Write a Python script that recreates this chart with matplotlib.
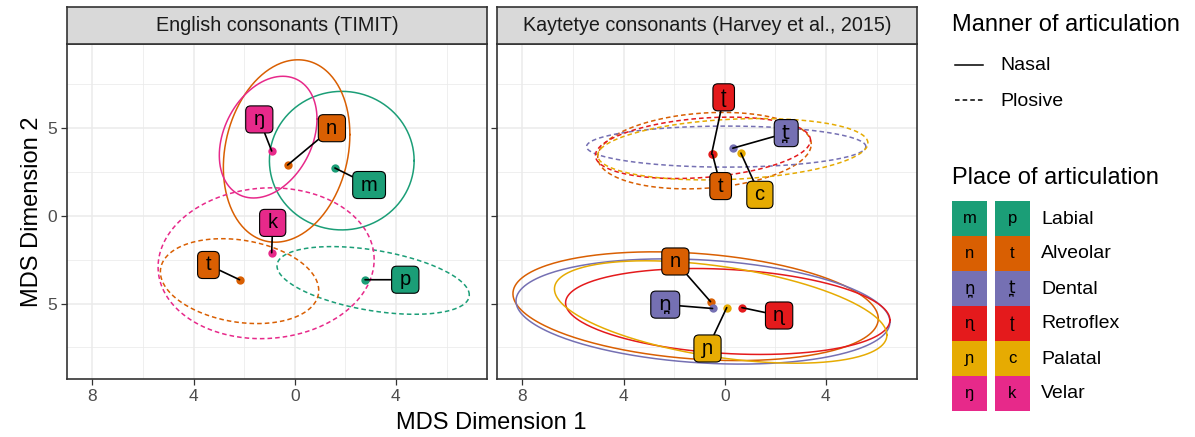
import numpy as np
import matplotlib.pyplot as plt
from matplotlib.patches import Rectangle
from matplotlib.lines import Line2D

plt.rcParams['font.family'] = ['Liberation Sans', 'DejaVu Sans']

# place of articulation -> colour
places = ['Labial', 'Alveolar', 'Dental', 'Retroflex', 'Palatal', 'Velar']
place_colors = ['#1B9E77', '#D95F02', '#7570B3', '#E41A1C', '#E6AB02', '#E7298A']
nasal_symbols = ['m', 'n', 'n\u032A', '\u0273', '\u0272', '\u014B']
plosive_symbols = ['p', 't', 't\u032A', '\u0288', 'c', 'k']

# English (TIMIT)
eng_symbol = ['m', 'n', '\u014B', 'p', 't', 'k']
eng_place = ['Labial', 'Alveolar', 'Velar', 'Labial', 'Alveolar', 'Velar']
eng_manner = ['Nasal', 'Nasal', 'Nasal', 'Plosive', 'Plosive', 'Plosive']
eng_x = [1.59, -0.28, -0.91, 2.78, -2.18, -0.91]
eng_y = [2.73, 2.90, 3.70, -3.64, -3.64, -2.10]
eng_label_x = [2.94, 1.47, -1.40, 4.37, -3.41, -0.87]
eng_label_y = [1.76, 5.00, 5.50, -3.64, -2.80, -0.40]
# ellipse: centre, x half-range, y half-range, correlation
eng_ell_cx = [1.86, -0.32, -1.05, 3.10, -2.18, -1.13]
eng_ell_cy = [3.15, 3.70, 4.49, -3.68, -3.72, -2.70]
eng_ell_sx = [2.86, 2.50, 1.93, 3.80, 3.13, 4.27]
eng_ell_sy = [3.95, 5.20, 3.47, 1.93, 2.42, 4.30]
eng_ell_r = [0.0, 0.18, 0.30, -0.43, -0.22, 0.05]

# Kaytetye (Harvey et al., 2015)
kay_symbol = ['n', 'n\u032A', '\u0273', '\u0272', 't', 't\u032A', '\u0288', 'c']
kay_place = ['Alveolar', 'Dental', 'Retroflex', 'Palatal',
             'Alveolar', 'Dental', 'Retroflex', 'Palatal']
kay_manner = ['Nasal'] * 4 + ['Plosive'] * 4
kay_x = [-0.56, -0.48, 0.68, 0.08, -0.48, 0.32, -0.52, 0.64]
kay_y = [-4.89, -5.28, -5.23, -5.23, 3.50, 3.86, 3.52, 3.58]
kay_label_x = [-1.95, -2.35, 2.15, -0.68, -0.16, 2.43, -0.04, 1.39]
kay_label_y = [-2.60, -5.06, -5.68, -7.56, 1.70, 4.72, 6.76, 1.20]
kay_ell_cx = [-1.15, -0.86, 0.12, -0.16, -0.80, 0.06, -0.86, 0.32]
kay_ell_cy = [-5.15, -5.45, -5.45, -5.48, 3.72, 3.95, 3.88, 3.80]
kay_ell_sx = [7.22, 7.39, 6.41, 6.57, 4.22, 5.52, 4.25, 5.34]
kay_ell_sy = [3.10, 3.00, 2.45, 2.92, 2.18, 1.17, 1.75, 1.75]
kay_ell_r = [-0.23, -0.20, -0.20, -0.45, 0.17, 0.0, 0.25, 0.20]

x_ticks = [-8, -4, 0, 4]
x_ticklabels = ['8', '4', '0', '4']
y_ticks = [-5, 0, 5]
y_ticklabels = ['5', '0', '5']

DASH = (0, (3, 2))
col = dict(zip(places, place_colors))


def fam(s):
    # combining bridge sits better when base and mark come from the same font
    return ['DejaVu Sans'] if '\u032A' in s else ['Liberation Sans', 'DejaVu Sans']


def ellipse_xy(cx, cy, sx, sy, r):
    t = np.linspace(0, 2 * np.pi, 300)
    return cx + sx * np.cos(t), cy + sy * (r * np.cos(t) + np.sqrt(1 - r ** 2) * np.sin(t))


def draw_panel(ax, sym, place, manner, x, y, lx, ly, ecx, ecy, esx, esy, er):
    ax.set_facecolor('white')
    for i in range(len(sym)):
        c = col[place[i]]
        ls = '-' if manner[i] == 'Nasal' else DASH
        ex, ey = ellipse_xy(ecx[i], ecy[i], esx[i], esy[i], er[i])
        ax.plot(ex, ey, color=c, lw=1.1, linestyle=ls, zorder=3)
    for i in range(len(sym)):
        c = col[place[i]]
        ax.annotate('\u2009' + sym[i] + '\u2009', xy=(x[i], y[i]), xytext=(lx[i], ly[i]),
                    textcoords='data', ha='center', va='center', fontsize=14.5, zorder=6,
                    family=fam(sym[i]),
                    bbox=dict(boxstyle='round,pad=0.2,rounding_size=0.25', fc=c, ec='black', lw=0.8),
                    arrowprops=dict(arrowstyle='-', color='black', lw=1.2, shrinkA=0, shrinkB=0))
        ax.plot(x[i], y[i], 'o', color=c, ms=6, mec='none', zorder=5)
    ax.set_xlim(-9.0, 7.6)
    ax.set_ylim(-9.3, 9.8)
    ax.set_xticks(x_ticks)
    ax.set_xticklabels(x_ticklabels)
    ax.set_xticks([-6, -2, 2, 6], minor=True)
    ax.set_yticks(y_ticks)
    ax.set_yticks([-7.5, -2.5, 2.5, 7.5], minor=True)
    ax.grid(True, which='major', color='#EBEBEB', lw=1.1, zorder=0)
    ax.grid(True, which='minor', color='#EBEBEB', lw=0.55, zorder=0)
    ax.set_axisbelow(True)
    ax.tick_params(which='major', length=4, width=0.9, color='#333333', labelcolor='#4D4D4D',
                   labelsize=12.5, pad=3)
    ax.tick_params(which='minor', length=0)
    for s in ax.spines.values():
        s.set_color('#333333')
        s.set_linewidth(1.2)


fig = plt.figure(figsize=(11.95, 4.37), dpi=100)
W, H = 1195.0, 437.0
panels = [(67, 'English consonants (TIMIT)'), (497, 'Kaytetye consonants (Harvey et al., 2015)')]
axes = []
for left, title in panels:
    ax = fig.add_axes([left / W, 1 - 379 / H, 420 / W, 335 / H])
    st = fig.add_axes([left / W, 1 - 44 / H, 420 / W, 37 / H])
    st.set_facecolor('#D9D9D9')
    st.set_xticks([])
    st.set_yticks([])
    for s in st.spines.values():
        s.set_color('#333333')
        s.set_linewidth(1.2)
    st.text(0.5, 0.5, title, ha='center', va='center', fontsize=14.2, color='#1A1A1A',
            transform=st.transAxes)
    axes.append(ax)

draw_panel(axes[0], eng_symbol, eng_place, eng_manner, eng_x, eng_y, eng_label_x, eng_label_y,
           eng_ell_cx, eng_ell_cy, eng_ell_sx, eng_ell_sy, eng_ell_r)
draw_panel(axes[1], kay_symbol, kay_place, kay_manner, kay_x, kay_y, kay_label_x, kay_label_y,
           kay_ell_cx, kay_ell_cy, kay_ell_sx, kay_ell_sy, kay_ell_r)
axes[0].set_yticklabels(y_ticklabels)
axes[1].set_yticklabels([])
axes[0].set_ylabel('MDS Dimension 2', fontsize=17, labelpad=3)
fig.text(491.5 / W, 1 - 423 / H, 'MDS Dimension 1', ha='center', va='center', fontsize=17)

# legends drawn in pixel coordinates
lg = fig.add_axes([0, 0, 1, 1])
lg.set_xlim(0, W)
lg.set_ylim(H, 0)
lg.axis('off')
lg.patch.set_alpha(0)
lg.text(952, 25, 'Manner of articulation', fontsize=17, va='center', ha='left')
lg.add_line(Line2D([955, 983], [65, 65], color='black', lw=1.1))
lg.add_line(Line2D([955, 983], [100, 100], color='black', lw=1.1, linestyle=DASH))
lg.text(1000, 65, 'Nasal', fontsize=14, va='center')
lg.text(1000, 101, 'Plosive', fontsize=14, va='center')
lg.text(952, 178, 'Place of articulation', fontsize=17, va='center', ha='left')
for i, p in enumerate(places):
    top = 201 + 35 * i
    for x0, s in [(952, nasal_symbols[i]), (995, plosive_symbols[i])]:
        lg.add_patch(Rectangle((x0, top), 35, 35, fc=place_colors[i], ec='none'))
        lg.text(x0 + 17.5, top + 17.5, s, ha='center', va='center', fontsize=12, family=fam(s))
    lg.text(1041, top + 18, p, fontsize=14, va='center')

fig.savefig('out.png', dpi=100)
